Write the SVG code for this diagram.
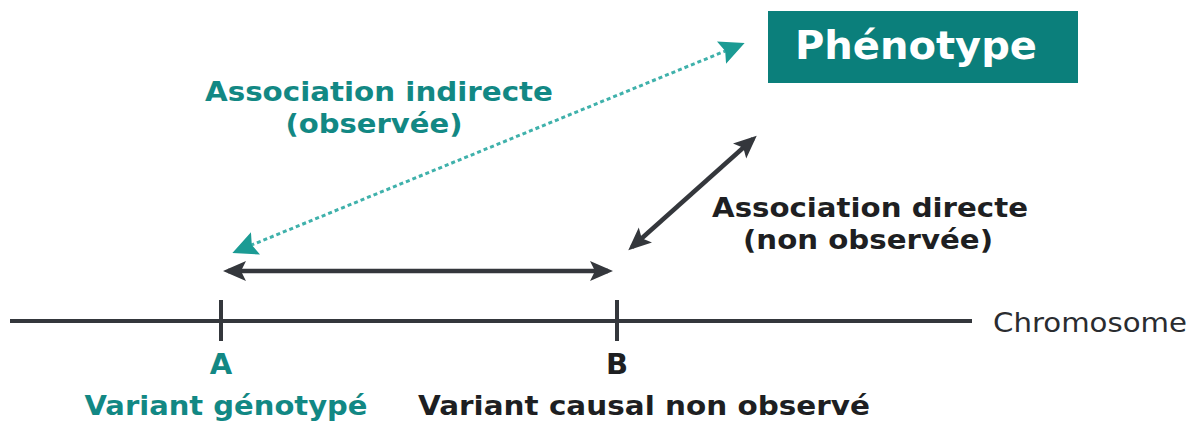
<svg xmlns="http://www.w3.org/2000/svg" width="1197" height="427" viewBox="0 0 1197 427">
  <style>
    .b { font-family: "DejaVu Sans", "Liberation Sans", sans-serif; font-weight: bold; text-anchor: middle; }
    .teal { fill: #128884; }
    .dark { fill: #1e1f22; }
    .lbl { font-size: 27px; }
    .axis { stroke: #34373c; stroke-width: 4; fill: none; }
    .dark-arrow { stroke: #34373c; stroke-width: 4.5; fill: none; }
    .dotted { stroke: #3fb1ab; stroke-width: 3; stroke-dasharray: 4 3; fill: none; }
  </style>
  <defs>
    <marker id="ah-dark" markerUnits="userSpaceOnUse" markerWidth="24" markerHeight="22" refX="18" refY="11" orient="auto-start-reverse" viewBox="0 0 24 22">
      <path d="M0,1 L23,11 L0,21 L5,11 Z" fill="#34373c"/>
    </marker>
    <marker id="ah-teal" markerUnits="userSpaceOnUse" markerWidth="26" markerHeight="26" refX="20" refY="13" orient="auto-start-reverse" viewBox="0 0 26 26">
      <path d="M0,1 L25,13 L0,25 L4,13 Z" fill="#1b9b94"/>
    </marker>
  </defs>

  <g id="connectors">
    <line id="chromosome-line" class="axis" x1="10" y1="321" x2="972" y2="321"/>
    <line id="tick-a" class="axis" x1="221" y1="300" x2="221" y2="341"/>
    <line id="tick-b" class="axis" x1="617" y1="300" x2="617" y2="341"/>
    <line id="ab-arrow" class="dark-arrow" x1="228" y1="271" x2="608" y2="271" marker-start="url(#ah-dark)" marker-end="url(#ah-dark)"/>
    <line id="direct-arrow" class="dark-arrow" x1="632" y1="247" x2="753" y2="139" marker-start="url(#ah-dark)" marker-end="url(#ah-dark)"/>
    <line id="indirect-arrow" class="dotted" x1="740" y1="45" x2="237" y2="251" marker-start="url(#ah-teal)" marker-end="url(#ah-teal)"/>
  </g>

  <g id="phenotype">
    <rect x="768" y="11" width="310" height="72" fill="#0b7f7b"/>
    <text class="b" x="916" y="59" font-size="39" fill="#ffffff" textLength="242" lengthAdjust="spacingAndGlyphs">Phénotype</text>
  </g>

  <g id="indirect-label">
    <text class="b teal lbl" x="379" y="101" textLength="348" lengthAdjust="spacingAndGlyphs">Association indirecte</text>
    <text class="b teal lbl" x="374" y="133" textLength="177" lengthAdjust="spacingAndGlyphs">(observée)</text>
  </g>

  <g id="direct-label">
    <text class="b dark lbl" x="870" y="217" textLength="316" lengthAdjust="spacingAndGlyphs">Association directe</text>
    <text class="b dark lbl" x="868" y="249" textLength="250" lengthAdjust="spacingAndGlyphs">(non observée)</text>
  </g>

  <g id="variant-a">
    <text class="b teal" x="221" y="374" font-size="29">A</text>
    <text class="b teal lbl" x="226" y="415" textLength="283" lengthAdjust="spacingAndGlyphs">Variant génotypé</text>
  </g>

  <g id="variant-b">
    <text class="b dark" x="617" y="374" font-size="29">B</text>
    <text class="b dark lbl" x="644" y="415" textLength="452" lengthAdjust="spacingAndGlyphs">Variant causal non observé</text>
  </g>

  <g id="chromosome-label">
    <text x="993" y="332" font-family="DejaVu Sans, Liberation Sans, sans-serif" font-size="27" fill="#2a2c30" textLength="194" lengthAdjust="spacingAndGlyphs">Chromosome</text>
  </g>
</svg>
